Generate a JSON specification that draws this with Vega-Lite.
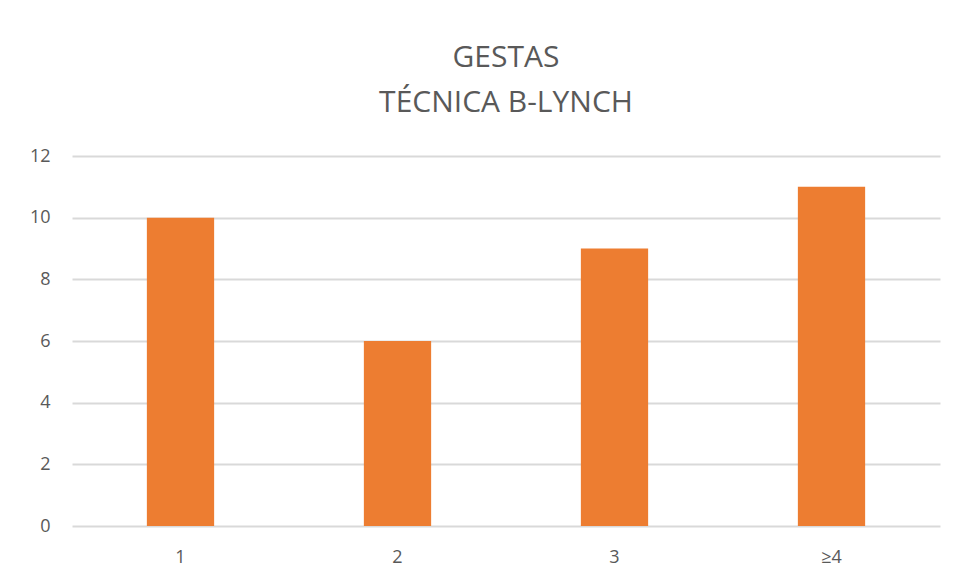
{
  "$schema": "https://vega.github.io/schema/vega-lite/v6.json",
  "autosize": {"type": "none"},
  "width": 868,
  "height": 370,
  "padding": {"left": 72, "top": 156, "right": 16, "bottom": 56},
  "background": "white",
  "title": {
    "text": ["GESTAS", "TÉCNICA B-LYNCH"],
    "anchor": "middle",
    "font": "Open Sans",
    "fontSize": 30,
    "fontWeight": "normal",
    "color": "#595959",
    "lineHeight": 45,
    "baseline": "top",
    "offset": 8,
    "dy": -21
  },
  "data": {
    "values": [
      {"gestas": "1", "count": 10},
      {"gestas": "2", "count": 6},
      {"gestas": "3", "count": 9},
      {"gestas": "≥4", "count": 11}
    ]
  },
  "mark": {"type": "bar", "color": "#ED7D31"},
  "encoding": {
    "x": {
      "field": "gestas",
      "type": "nominal",
      "sort": null,
      "scale": {"paddingInner": 0.69, "paddingOuter": 0.345},
      "axis": {
        "title": null,
        "labelAngle": 0,
        "ticks": false,
        "domain": false,
        "labelFont": "Open Sans",
        "labelFontSize": 18,
        "labelColor": "#595959",
        "labelPadding": 22
      }
    },
    "y": {
      "field": "count",
      "type": "quantitative",
      "scale": {"domain": [0, 12]},
      "axis": {
        "title": null,
        "values": [0, 2, 4, 6, 8, 10, 12],
        "ticks": false,
        "domain": false,
        "grid": true,
        "gridColor": "#d9d9d9",
        "gridWidth": 2,
        "labelFont": "Open Sans",
        "labelFontSize": 18,
        "labelColor": "#595959",
        "labelPadding": 22
      }
    }
  },
  "config": {"view": {"stroke": null}}
}
